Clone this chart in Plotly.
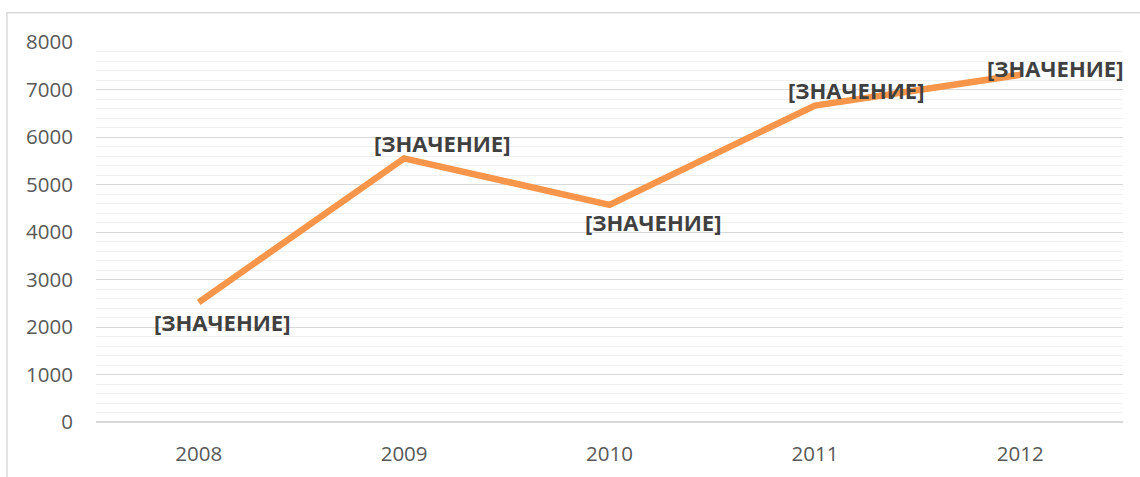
import plotly.graph_objects as go

years = ["2008", "2009", "2010", "2011", "2012"]
values = [2520, 5550, 4570, 6660, 7310]
label_text = "[ЗНАЧЕНИЕ]"
y_ticks = [0, 1000, 2000, 3000, 4000, 5000, 6000, 7000, 8000]

# label offsets in pixels (x, y) relative to each point
offsets = [(23, -20), (38, 15), (43, -17), (41, 16), (35, 7)]

fig = go.Figure()
fig.add_trace(go.Scatter(
    x=years, y=values, mode="lines",
    line=dict(color="#F7964A", width=6.5),
    hoverinfo="skip", showlegend=False,
))

annotations = []
for i, (y, (dx, dy)) in enumerate(zip(values, offsets)):
    annotations.append(dict(
        x=i, y=y, xref="x", yref="y", text="<b>" + label_text + "</b>", showarrow=False,
        xshift=dx, yshift=dy,
        font=dict(family="Open Sans", size=22, color="#404040"),
    ))

fig.add_shape(
    type="rect", xref="paper", yref="paper",
    x0=-0.0867, x1=1.05, y0=-0.3, y1=1.077,
    line=dict(color="#D9D9D9", width=1.5), fillcolor="rgba(0,0,0,0)", layer="below",
)

fig.update_layout(
    width=1140, height=477,
    margin=dict(l=96, r=17, t=42, b=55, autoexpand=False),
    paper_bgcolor="white", plot_bgcolor="white",
    font=dict(family="Open Sans", size=20.5, color="#595959"),
    annotations=annotations,
    xaxis=dict(
        type="category", range=[-0.5, 4.5], automargin=False,
        showgrid=False, showline=False, zeroline=False,
        ticks="", ticklabelstandoff=17,
    ),
    yaxis=dict(
        range=[0, 8000], tickvals=y_ticks, automargin=False,
        showgrid=True, gridcolor="#D9D9D9", gridwidth=1.3,
        zeroline=True, zerolinecolor="#D9D9D9", zerolinewidth=1.5,
        showline=False, ticks="", ticklabelstandoff=22,
        minor=dict(dtick=200, showgrid=True, gridcolor="#F0F0F0", gridwidth=1.3),
    ),
)

fig.write_html("out.html", config={"displayModeBar": False},
               post_script="document.body.style.margin='0';")
